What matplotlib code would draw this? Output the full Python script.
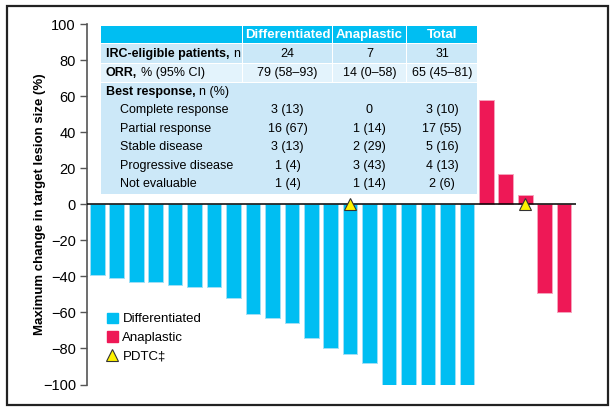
import matplotlib
matplotlib.use('Agg')
import matplotlib.pyplot as plt
from matplotlib.patches import Rectangle, Patch
from matplotlib.lines import Line2D

plt.rcParams['font.family'] = ['Liberation Sans', 'DejaVu Sans']

# bar values (%)
diff_values = [-39, -41, -43, -43, -45, -46, -46, -52, -61, -63, -66, -74, -80, -83, -88,
               -100, -100, -100, -100, -100]
ana_values = [58, 17, 5, -49, -60]
pdtc_pos = [13, 22]

yticks = [-100, -80, -60, -40, -20, 0, 20, 40, 60, 80, 100]

# table contents
col_heads = ['Differentiated', 'Anaplastic', 'Total']
irc_row = ['24', '7', '31']
orr_row = ['79 (58\u201393)', '14 (0\u201358)', '65 (45\u201381)']
resp_labels = ['Complete response', 'Partial response', 'Stable disease',
               'Progressive disease', 'Not evaluable']
resp_diff = ['3 (13)', '16 (67)', '3 (13)', '1 (4)', '1 (4)']
resp_ana = ['0', '1 (14)', '2 (29)', '3 (43)', '1 (14)']
resp_tot = ['3 (10)', '17 (55)', '5 (16)', '4 (13)', '2 (6)']

BLUE = '#00BEF2'
RED = '#EE1856'
W, H = 613, 411
FS = 9

fig = plt.figure(figsize=(W / 100, H / 100), dpi=100)

def fx(x):
    return x / W

def fy(y):
    return 1 - y / H

ax = fig.add_axes([fx(87), fy(384.5), fx(576 - 87), (384.5 - 24) / H])

n_diff = len(diff_values)
xd = list(range(n_diff))
xa = list(range(n_diff, n_diff + len(ana_values)))
ax.bar(xd, diff_values, width=0.75, color=BLUE, edgecolor='#9FE0F6', linewidth=0.7, zorder=2)
ax.bar(xa, ana_values, width=0.75, color=RED, edgecolor='#F5A3BC', linewidth=0.7, zorder=2)
ax.axhline(0, color='black', lw=1.1, zorder=3)
ax.plot(pdtc_pos, [0] * len(pdtc_pos), ls='none', marker='^', ms=9,
        mfc='#FFF200', mec='#333333', mew=0.8, zorder=4, clip_on=False)

ax.set_xlim(-0.53, 24.61)
ax.set_ylim(-100, 100)
ax.set_yticks(yticks)
ax.set_yticklabels([f'\u2212{-t}' if t < 0 else str(t) for t in yticks])
ax.tick_params(axis='y', direction='out', length=5, width=1, color='#555555',
               labelsize=10.5, pad=3)
ax.set_xticks([])
for s in ['top', 'right', 'bottom']:
    ax.spines[s].set_visible(False)
ax.spines['left'].set_color('#555555')
ax.spines['left'].set_linewidth(1.2)
ax.set_ylabel('Maximum change in target lesion size (%)', fontsize=9.5,
              fontweight='bold', labelpad=-2)

handles = [Patch(color=BLUE), Patch(color=RED),
           Line2D([], [], ls='none', marker='^', ms=9, mfc='#FFF200', mec='#333333', mew=0.8)]
ax.legend(handles, ['Differentiated', 'Anaplastic', 'PDTC\u2021'], loc='upper left',
          bbox_to_anchor=(fx(100), fy(306)), bbox_transform=fig.transFigure,
          frameon=False, fontsize=9.5, handlelength=0.85, handleheight=0.85,
          handletextpad=0.35, labelspacing=0.45, borderpad=0)

# table, drawn in pixel units
tab = fig.add_axes([fx(100), fy(194), fx(477 - 100), (194 - 25) / H])
tab.set_xlim(100, 477)
tab.set_ylim(194, 25)
tab.axis('off')
tab.patch.set_alpha(0)

cols = [(101, 242), (243, 332), (333, 406), (407, 477)]
rows = [(26, 43, BLUE), (44, 62.5, '#CBE8F8'), (63.5, 82, '#E3F3FC')]
for (y0, y1, c) in rows:
    for (x0, x1) in cols:
        tab.add_patch(Rectangle((x0, y0), x1 - x0, y1 - y0, color=c, lw=0))
tab.add_patch(Rectangle((101, 83), 376, 110.5, color='#CCE8F8', lw=0))


def mixed(x, y, bold, normal):
    t = tab.text(x, y, bold, ha='left', va='center', fontsize=FS, fontweight='bold')
    tab.annotate(normal, xy=(1, 0.5), xycoords=t, xytext=(2.5, 0), textcoords='offset points',
                 ha='left', va='center', fontsize=FS)


centers = [(x0 + x1) / 2 for (x0, x1) in cols[1:]]
for cx, h in zip(centers, col_heads):
    tab.text(cx, 35, h, ha='center', va='center', color='white', fontsize=FS + 0.5,
             fontweight='bold')

mixed(106, 53.5, 'IRC-eligible patients,', 'n')
mixed(106, 72.5, 'ORR,', '% (95% CI)')
for cx, v in zip(centers, irc_row):
    tab.text(cx, 53.5, v, ha='center', va='center', fontsize=FS)
for cx, v in zip(centers, orr_row):
    tab.text(cx, 72.5, v, ha='center', va='center', fontsize=FS)

mixed(106, 92, 'Best response,', 'n (%)')
row_y = [110, 128.5, 147, 165.5, 184]
for yy, lab, a, b, c in zip(row_y, resp_labels, resp_diff, resp_ana, resp_tot):
    tab.text(120, yy, lab, ha='left', va='center', fontsize=FS)
    for cx, v in zip(centers, [a, b, c]):
        tab.text(cx, yy, v, ha='center', va='center', fontsize=FS)

# outer frame
fig.add_artist(Rectangle((fx(7), fy(404.5)), fx(608 - 7), (404.5 - 6) / H,
                         transform=fig.transFigure, fill=False, ec='#222222', lw=1.6))

fig.savefig('out.png', dpi=100)
